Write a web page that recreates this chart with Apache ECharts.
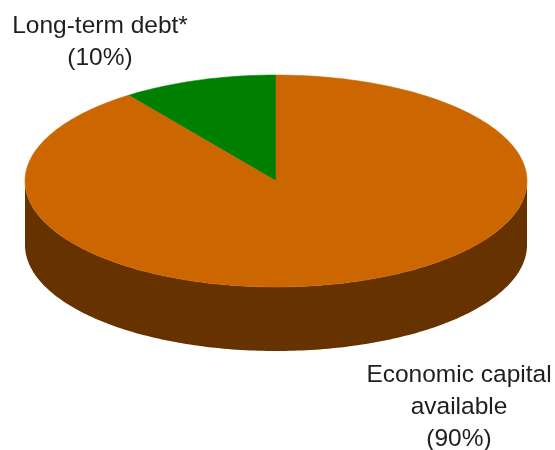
<!DOCTYPE html>
<html><head><meta charset="utf-8">
<script src="https://cdn.jsdelivr.net/npm/echarts@6/dist/echarts.min.js"></script>
<style>html,body{margin:0;padding:0;background:#fff}#c{width:555px;height:450px}</style>
</head><body><div id="c"></div>
<script>
// ---- data ----
const categories = ['Long-term debt*', 'Economic capital\navailable'];
const values = [10, 90];
// ---- styles / layout ----
const topColors = ['#008000', '#CC6600'];
const sideColors = ['#004000', '#663300'];
const labelPos = [[100, 42], [459, 407]];
const geo = { cx: 276, cy: 181, rx: 251, ry: 106, depth: 64 };

const total = values.reduce((a, b) => a + b, 0);
const starts = [];
let acc = 0;
values.forEach(v => { starts.push(acc); acc += v; });

function pt(thetaDeg, dy) {
  const t = thetaDeg * Math.PI / 180;
  return [geo.cx - geo.rx * Math.sin(t), geo.cy - geo.ry * Math.cos(t) + (dy || 0)];
}
function arc(a, b, dy) {
  const pts = [];
  const n = Math.max(2, Math.ceil(Math.abs(b - a) / 1));
  for (let i = 0; i <= n; i++) pts.push(pt(a + (b - a) * i / n, dy));
  return pts;
}

const chart = echarts.init(document.getElementById('c'), null, { renderer: 'canvas' });
chart.setOption({
  animation: false,
  series: [{
    type: 'custom',
    coordinateSystem: 'none',
    data: values.map((v, i) => ({ name: categories[i], value: [v, starts[i]] })),
    renderItem: function (params, api) {
      const i = params.dataIndex;
      const v = api.value(0);
      const s = api.value(1);
      const a = s / total * 360;
      const b = (s + v) / total * 360;
      const children = [];
      // side wall (front half: 90..270)
      const sa = Math.max(a, 90), sb = Math.min(b, 270);
      if (sb > sa) {
        const upper = arc(sa, sb, 0);
        const lower = arc(sb, sa, geo.depth);
        children.push({
          type: 'polygon',
          shape: { points: upper.concat(lower) },
          style: { fill: sideColors[i], stroke: null }
        });
      }
      // top face
      const topPts = [[geo.cx, geo.cy]].concat(arc(a, b, 0));
      children.push({
        type: 'polygon',
        shape: { points: topPts },
        style: { fill: topColors[i], stroke: topColors[i], lineWidth: 0.5 }
      });
      const pct = Math.round(v / total * 100);
      children.push({
        type: 'text',
        x: labelPos[i][0],
        y: labelPos[i][1],
        style: {
          text: categories[i] + '\n(' + pct + '%)',
          fill: '#1e1e1e',
          fontSize: 24.5,
          fontFamily: '"Liberation Sans", Arial, sans-serif',
          lineHeight: 32,
          align: 'center',
          verticalAlign: 'middle'
        }
      });
      return { type: 'group', children: children };
    }
  }]
});
</script>
</body></html>
